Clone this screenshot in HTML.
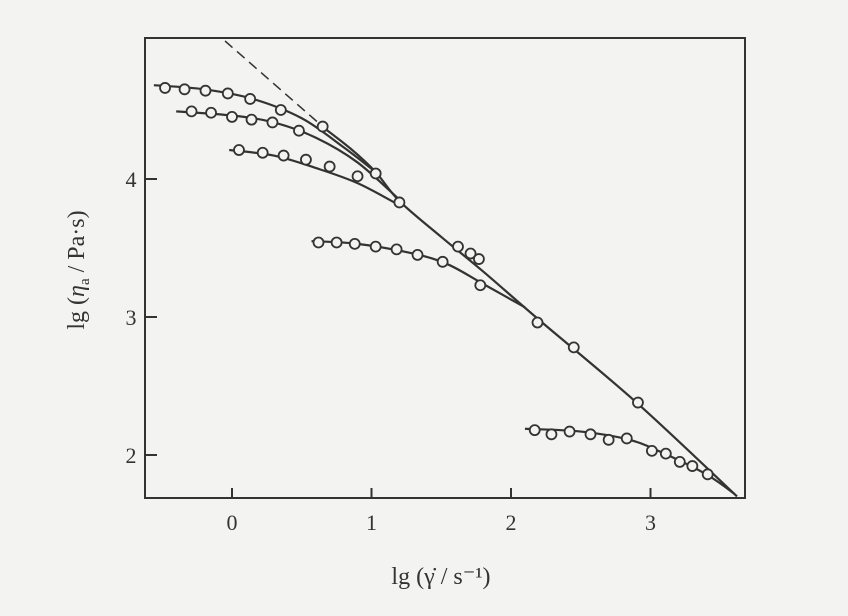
<!DOCTYPE html>
<html><head><meta charset="utf-8"><style>
html,body{margin:0;padding:0;background:#f3f3f1;}
svg{display:block;font-family:"Liberation Serif",serif;}
</style></head><body>
<svg id="chart" width="848" height="616" viewBox="0 0 848 616">
<rect x="0" y="0" width="848" height="616" fill="#f3f3f1"/>
<g id="plot"></g>
</svg>
<script>
const xTicks=[0,1,2,3];
const yTicks=[2,3,4];
const xTickLabels=["0","1","2","3"];
const yTickLabels=["2","3","4"];
const s1Pts=[[-0.48,4.66],[-0.34,4.65],[-0.19,4.64],[-0.03,4.62],[0.13,4.58],[0.35,4.50],[0.65,4.38]];
const s2Pts=[[-0.29,4.49],[-0.15,4.48],[0.0,4.45],[0.14,4.43],[0.29,4.41],[0.48,4.35]];
const s3Pts=[[0.05,4.21],[0.22,4.19],[0.37,4.17],[0.53,4.14],[0.70,4.09],[0.90,4.02]];
const s4Pts=[[0.62,3.54],[0.75,3.54],[0.88,3.53],[1.03,3.51],[1.18,3.49],[1.33,3.45],[1.51,3.40],[1.78,3.23]];
const s5Pts=[[2.17,2.18],[2.29,2.15],[2.42,2.17],[2.57,2.15],[2.70,2.11],[2.83,2.12],[3.01,2.03],[3.11,2.01],[3.21,1.95],[3.30,1.92],[3.41,1.86]];
const masterPts=[[1.03,4.04],[1.20,3.83],[1.62,3.51],[1.71,3.46],[1.77,3.42],[2.19,2.96],[2.45,2.78],[2.91,2.38]];
const masterCurve=[[0.62,4.40],[0.85,4.22],[1.03,4.05],[1.2,3.84],[1.5,3.58],[1.8,3.33],[2.2,2.98],[2.9,2.38],[3.62,1.70]];
const dashLine=[[-0.05,5.0],[0.65,4.38]];
const c1=[[-0.56,4.68],[-0.2,4.65],[0.15,4.58],[0.5,4.44],[0.8,4.23],[1.03,4.05]];
const c2=[[-0.4,4.49],[0,4.46],[0.3,4.41],[0.6,4.30],[0.9,4.12],[1.2,3.85]];
const c3=[[-0.02,4.21],[0.3,4.17],[0.6,4.08],[0.9,3.97],[1.2,3.81]];
const c4=[[0.57,3.55],[0.9,3.53],[1.3,3.46],[1.55,3.38],[1.8,3.24],[2.1,3.07]];
const c5=[[2.1,2.19],[2.5,2.17],[2.85,2.11],[3.1,2.01],[3.4,1.86],[3.6,1.72]];

const X=v=>232+139.5*v;
const Y=v=>179+(4-v)*138;
const NS="http://www.w3.org/2000/svg";
const g=document.getElementById('plot');
function mk(t,a){const e=document.createElementNS(NS,t);for(const k in a)e.setAttribute(k,a[k]);g.appendChild(e);return e;}
function smooth(p){const q=p.map(d=>[X(d[0]),Y(d[1])]);let s="M"+q[0][0]+","+q[0][1];
 for(let i=0;i<q.length-1;i++){const p0=q[i-1]||q[i],p1=q[i],p2=q[i+1],p3=q[i+2]||p2;
 s+=` C${p1[0]+(p2[0]-p0[0])/6},${p1[1]+(p2[1]-p0[1])/6} ${p2[0]-(p3[0]-p1[0])/6},${p2[1]-(p3[1]-p1[1])/6} ${p2[0]},${p2[1]}`;}return s;}

let e=mk('rect',{x:145,y:38,width:600,height:460,fill:'none',stroke:'#333',"stroke-width":2});


xTicks.forEach((v,i)=>{
 let t=mk('line',{x1:X(v),x2:X(v),y1:498,y2:488,stroke:'#333',"stroke-width":2});
 
 
 let l=mk('text',{x:X(v),y:530,"text-anchor":"middle","font-size":22,fill:'#333'});l.textContent=xTickLabels[i];
 
 
});
yTicks.forEach((v,i)=>{
 let t=mk('line',{x1:145,x2:157,y1:Y(v),y2:Y(v),stroke:'#333',"stroke-width":2});
 
 
 let l=mk('text',{x:131,y:Y(v)+8,"text-anchor":"middle","font-size":22,fill:'#333'});l.textContent=yTickLabels[i];
 
 
});
e=mk('path',{d:smooth(dashLine),fill:'none',stroke:'#333',"stroke-width":1.5,"stroke-dasharray":"10,6"});


[[masterCurve,'master-curve'],[c1,'curve-1'],[c2,'curve-2'],[c3,'curve-3'],[c4,'curve-4'],[c5,'curve-5']].forEach(([c,n])=>{
 let p=mk('path',{d:smooth(c),fill:'none',stroke:'#333',"stroke-width":2.2});
 
 
});
[s1Pts,s2Pts,s3Pts,s4Pts,s5Pts,masterPts].forEach((s,si)=>s.forEach(d=>{
 let c=mk('circle',{cx:X(d[0]),cy:Y(d[1]),r:5,fill:'#f3f3f1',stroke:'#333',"stroke-width":1.8});
 
 
}));
e=mk('text',{x:441,y:584,"text-anchor":"middle","font-size":24,fill:'#333'});
e.textContent="lg (γ̇ / s⁻¹)";


e=mk('text',{x:0,y:0,transform:"translate(84,270) rotate(-90)","text-anchor":"middle","font-size":24,fill:'#333'});
e.innerHTML='lg (<tspan font-style="italic">η</tspan><tspan font-size="15" dy="5">a</tspan><tspan dy="-5"> / Pa·s)</tspan>';


</script>
</body></html>
